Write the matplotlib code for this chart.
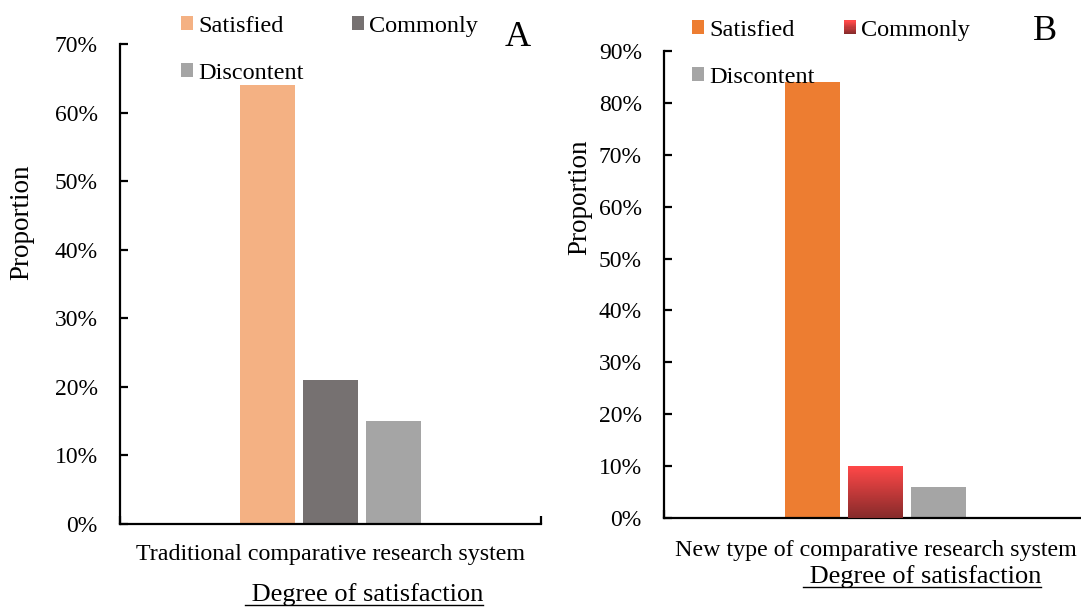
import numpy as np
import matplotlib
matplotlib.use("Agg")
import matplotlib.pyplot as plt
from matplotlib.patches import Rectangle
from matplotlib.legend_handler import HandlerBase
from matplotlib.lines import Line2D
from matplotlib.colors import LinearSegmentedColormap

plt.rcParams['font.family'] = 'serif'
plt.rcParams['font.serif'] = ['Liberation Serif']

#---------------------------------------------------
# data
#---------------------------------------------------
series = ['Satisfied', 'Commonly', 'Discontent']
system_a = ['Traditional comparative research system']
system_b = ['New type of comparative research system']
values_a = [64, 21, 15]
values_b = [84, 10, 6]
colors_a = ['#F4B183', '#767171', '#A5A5A5']
colors_b = ['#ED7D31', '#E03C3C', '#A5A5A5']
grad_top, grad_bottom = '#FF4848', '#872B2B'

W, H = 1081, 608
fig = plt.figure(figsize=(W / 100, H / 100), dpi=100)

def px_axes(l, t, r, b):
    return fig.add_axes([l / W, 1 - b / H, (r - l) / W, (b - t) / H])

ax_a = px_axes(120, 44, 541, 524)
ax_b = px_axes(664, 51, 1087, 518)

grad_cmap = LinearSegmentedColormap.from_list('grad', [grad_bottom, grad_top])

class GradientHandler(HandlerBase):
    def create_artists(self, legend, orig_handle, xdescent, ydescent, width, height, fontsize, trans):
        n = 12
        arts = []
        for i in range(n):
            arts.append(Rectangle((-xdescent, -ydescent + height * i / n), width, height / n + 0.3,
                                  facecolor=grad_cmap(i / (n - 1)), edgecolor='none', transform=trans))
        return arts

def draw_panel(ax, cats, vals, cols, ymax, step, gradient_idx=None, xpad=14):
    bw, off = 0.13, 0.15
    xs = np.arange(len(cats))
    handles = []
    for i, (name, v, c) in enumerate(zip(series, vals, cols)):
        bars = ax.bar(xs + (i - 1) * off, [v], width=bw, color=c, label=name, zorder=2)
        if gradient_idx == i:
            b = bars[0]
            grad = np.linspace(0, 1, 100).reshape(-1, 1)
            im = ax.imshow(grad, cmap=grad_cmap, origin='lower', aspect='auto',
                           extent=[b.get_x(), b.get_x() + b.get_width(), 0, v], zorder=3)
            im.set_clip_path(b)
        handles.append(bars[0])
    ax.set_xlim(-0.5, 0.5)
    ax.set_ylim(0, ymax)
    ax.set_yticks(np.arange(0, ymax + 1, step))
    ax.set_yticklabels([f'{t}%' for t in range(0, ymax + 1, step)])
    ax.set_xticks(xs)
    ax.set_xticklabels(cats)
    ax.set_xticks([-0.5, 0.5], minor=True)
    for s in ['top', 'right']:
        ax.spines[s].set_visible(False)
    for s in ['left', 'bottom']:
        ax.spines[s].set_linewidth(1.6)
    ax.tick_params(axis='y', direction='in', length=6, width=1.6, labelsize=17, pad=16)
    ax.tick_params(axis='x', which='major', length=0, labelsize=17.3, pad=xpad)
    ax.tick_params(axis='x', which='minor', direction='in', length=6, width=1.6)
    ax.set_autoscale_on(False)
    return handles

h_a = draw_panel(ax_a, system_a, values_a, colors_a, 70, 10, xpad=14.5)
h_b = draw_panel(ax_b, system_b, values_b, colors_b, 90, 10, gradient_idx=1, xpad=16)

# column-first fill: Satisfied / Discontent in col 1, Commonly in col 2
order = [0, 2, 1]
leg_kw = dict(ncol=2, frameon=False, fontsize=17.5, handlelength=0.5, handleheight=0.5,
              handletextpad=0.2, labelspacing=1.05, borderpad=0, borderaxespad=0,
              loc='upper left')
fig.legend([h_a[i] for i in order], [series[i] for i in order],
           bbox_to_anchor=(181 / W, 1 - 16 / H), columnspacing=2.0, **leg_kw)
fig.legend([h_b[i] for i in order], [series[i] for i in order],
           bbox_to_anchor=(692 / W, 1 - 20 / H), columnspacing=1.2,
           handler_map={h_b[1]: GradientHandler()}, **leg_kw)

fig.text(518 / W, 1 - 37 / H, 'A', fontsize=26, ha='center', va='center')
fig.text(1045 / W, 1 - 32 / H, 'B', fontsize=26, ha='center', va='center')

fig.text(22 / W, 1 - 222 / H, 'Proportion', rotation=90, fontsize=19.5, ha='center', va='center')
fig.text(580 / W, 1 - 197 / H, 'Proportion', rotation=90, fontsize=19.5, ha='center', va='center')

t1 = fig.text(364 / W, 1 - 595 / H, ' Degree of satisfaction', fontsize=19, ha='center', va='center')
t2 = fig.text(922 / W, 1 - 577 / H, ' Degree of satisfaction', fontsize=19, ha='center', va='center')

fig.canvas.draw()
r = fig.canvas.get_renderer()
for t in (t1, t2):
    bb = t.get_window_extent(r)
    y = bb.y0 + 1
    fig.add_artist(Line2D([bb.x0 / W, bb.x1 / W], [y / H, y / H], color='black', lw=1.0,
                          transform=fig.transFigure))

fig.savefig('out.png', dpi=100)
